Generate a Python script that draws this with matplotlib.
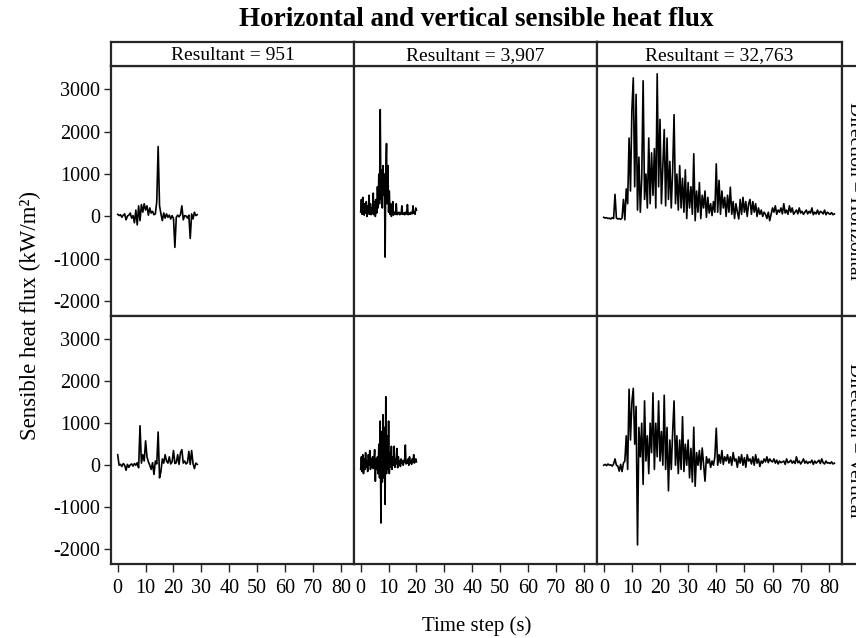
import numpy as np
import matplotlib
matplotlib.use('Agg')
import matplotlib.pyplot as plt

plt.rcParams['font.family'] = ['Liberation Serif', 'DejaVu Serif']
plt.rcParams['axes.unicode_minus'] = False

# resultant labels per column, direction labels per row
resultants = ['951', '3,907', '32,763']
directions = ['Horizontal', 'Vertical']

# sampling step (s) of each column
steps = [0.5, 0.25, 0.5]

# horizontal flux (kW/m2)
h_951 = [50, 20, 40, -20, 30, 60, -80, 10, 30, 80,
         -40, 20, -150, 150, -200, 250, -100, 280, 100, 300,
         150, 250, 30, 200, 80, 120, 40, 60, 350, 1650,
         250, 60, -100, 80, -40, 60, -20, 30, -60, 20,
         -50, -730, -20, 30, -10, 40, 250, -80, 20, 10,
         -40, 30, -520, 60, -60, 100, 20, 40]
h_3907 = [100, 400, 50, 450, 150,
          30, 300, 80, 350,
          0, 250, 60, 500,
          50, 300, 40, 200,
          60, 550, 40, 350,
          0, 400, 80, 700,
          200, 1000, 300, 2520,
          400, 1100, 200, 1200,
          500, 1000, -960, 1100,
          1720, 300, 1200, 100,
          600, 50, 300, 0,
          100, 350, 30, 100,
          60, 50, 300, 40,
          80, 60, 100, 40,
          70, 60, 250, 50,
          80, 60, 40, 100,
          50, 70, 280, 40,
          60, 80, 50, 100,
          70, 60, 250, 80,
          100, 50, 200, 150]
h_32763 = [-20, -40, -30, -50, -40, -60, -30, -50,
           520, -40, -60, -50, -70, -40, 400, -80,
           650, 300, 1850, 600, 2500, 3270, 700, 2880,
           150, 1400, 100, 900, 3200, 400, 1000, 200,
           1850, 300, 1500, 500, 1600, 200, 3365, 700,
           2290, 300, 1200, 2050, 250, 1850, 400, 1300,
           200, 1100, 2400, 300, 1000, 150, 1200, 200,
           900, 100, 1100, -50, 800, 200, 700, 50,
           1480, -100, 600, 100, 800, -50, 500, 200,
           600, -20, 450, 80, 300, 20, 350, 100,
           1240, 100, 850, 50, 600, 200, 450, 0,
           500, 100, 690, 50, 350, -50, 300, 100,
           -60, 400, 50, 450, 100, 350, 0, 300,
           400, 50, 350, 100, 300, 0, 200, 50,
           150, 0, 100, 50, -50, 100, -100, 50,
           200, 100, 250, 50, 150, 100, 200, 60,
           300, 80, 150, 50, 250, 100, 200, 50,
           100, 150, 60, 200, 80, 120, 50, 100,
           150, 60, 120, 80, 200, 40, 100, 60,
           150, 50, 120, 100, 60, 150, 40, 100,
           70, 50, 90, 40, 60]

# vertical flux (kW/m2)
v_951 = [250, 0, 20, -30, 40, 0, -120, 20, -50, 10,
         30, -20, 40, 0, 60, -60, 940, 50, 250, 100,
         580, 200, 80, 0, -100, 60, -220, 100, 30, 790,
         -300, -150, 150, 50, 250, 100, 50, 200, 30, 80,
         350, 40, 60, 250, 20, 300, 370, 50, 100, 30,
         60, 330, 20, 350, 40, -80, 50, 20]
v_3907 = [-100, 200, -150, 250, -200,
          150, -100, 300, -50,
          100, -150, 250, 0,
          350, -100, 150, -50,
          200, -80, 100, 370,
          -380, 150, -100, 200,
          -200, 500, -300, 1050,
          -1375, 800, -400, 1200,
          -300, 900, -930, 1630,
          -200, 700, -100, 1050,
          -200, 300, -50, 450,
          -100, 200, 0, 450,
          -50, 150, 30, 400,
          -60, 200, 0, 100,
          -30, 150, 50, 100,
          0, 120, 80, 480,
          30, 100, 50, 150,
          0, 200, 60, 100,
          20, 150, 80, 250,
          50, 120, 150, 80]
v_32763 = [0, 20, -10, 30, 0, 10, -20, 30,
           150, 0, -20, -140, 20, -150, 50, 100,
           700, -100, 1810, 600, 1500, 1830, 500, 1400,
           -1895, 900, 200, 1000, -455, 1530, 100, 700,
           -200, 1000, 300, 1720, -100, 1000, 200, 1530,
           100, 800, 0, 1665, -100, 900, -610, 600,
           -100, 800, 1530, 0, 700, -200, 600, -100,
           1155, -150, 500, 0, 600, -300, 400, -400,
           905, -500, 300, 0, 350, -100, 410, 0,
           -380, 200, 50, 150, -50, 100, 0, 200,
           880, 0, 250, 50, 350, 20, 200, 100,
           250, 50, 200, 0, 300, 100, 150, -50,
           200, 50, 250, 0, 180, -50, 250, 100,
           150, 30, 200, 0, 250, 50, 150, -30,
           100, 50, 150, 80, 200, 60, 150, 100,
           80, 150, 50, 120, 30, 100, 60, 80,
           100, 20, 150, 60, 80, 120, 50, 100,
           40, 200, 60, 100, 30, 80, 150, 50,
           100, 40, 80, 60, 120, 20, 100, 50,
           80, 120, 40, 150, 60, 30, 100, 50,
           60, 40, 80, 30, 50]

series = [[h_951, h_3907, h_32763], [v_951, v_3907, v_32763]]

W, H = 856, 638
edge = '#262626'

def rect(x0, y0, x1, y1):
    return [x0 / W, 1 - y1 / H, (x1 - x0) / W, (y1 - y0) / H]

cols = [(111, 354), (354, 597), (597, 842)]
rows = [(66, 316), (316, 564)]

fig = plt.figure(figsize=(W / 100, H / 100), dpi=100)

for i, (y0, y1) in enumerate(rows):
    for j, (x0, x1) in enumerate(cols):
        ax = fig.add_axes(rect(x0, y0, x1, y1))
        vals = np.array(series[i][j])
        t = np.arange(len(vals)) * steps[j]
        ax.plot(t, vals, color='black', lw=1.2)
        ax.set_xlim(-2.4, 84.7)
        ax.set_ylim(-2350, 3550)
        ax.set_xticks(range(0, 81, 10))
        ax.set_yticks(range(-2000, 3001, 1000))
        for s in ax.spines.values():
            s.set_color(edge)
            s.set_linewidth(1.6)
        ax.tick_params(direction='out', length=5, width=1.0, color=edge,
                       labelsize=14.5, pad=3)
        if j > 0:
            ax.tick_params(axis='y', left=False, labelleft=False)
        if i == 0:
            ax.tick_params(axis='x', bottom=False, labelbottom=False)
        else:
            ax.tick_params(axis='x', length=6, pad=5)

# column strips
for j, (x0, x1) in enumerate(cols):
    sa = fig.add_axes(rect(x0, 42, x1, 66))
    sa.set_xticks([])
    sa.set_yticks([])
    for s in sa.spines.values():
        s.set_color(edge)
        s.set_linewidth(1.6)
    sa.text(0.5, 0.45, 'Resultant = ' + resultants[j], ha='center', va='center',
            fontsize=14, transform=sa.transAxes)

# row strips (cut by the right edge, as in the source image)
for i, (y0, y1) in enumerate(rows):
    sa = fig.add_axes(rect(842, y0, 866, y1))
    sa.set_xticks([])
    sa.set_yticks([])
    for s in sa.spines.values():
        s.set_color(edge)
        s.set_linewidth(1.6)
    sa.text(0.5, 0.5, 'Direction = ' + directions[i], ha='center', va='center',
            rotation=270, fontsize=14, transform=sa.transAxes)

fig.text(476 / W, 1 - 19 / H, 'Horizontal and vertical sensible heat flux',
         ha='center', va='center', fontsize=19.5, fontweight='bold')
fig.text(477 / W, 1 - 626 / H, 'Time step (s)', ha='center', va='center',
         fontsize=15)
fig.text(30 / W, 1 - 315 / H, 'Sensible heat flux (kW/m²)', ha='center',
         va='center', rotation=90, fontsize=16.5)

fig.savefig('out.png', dpi=100)
